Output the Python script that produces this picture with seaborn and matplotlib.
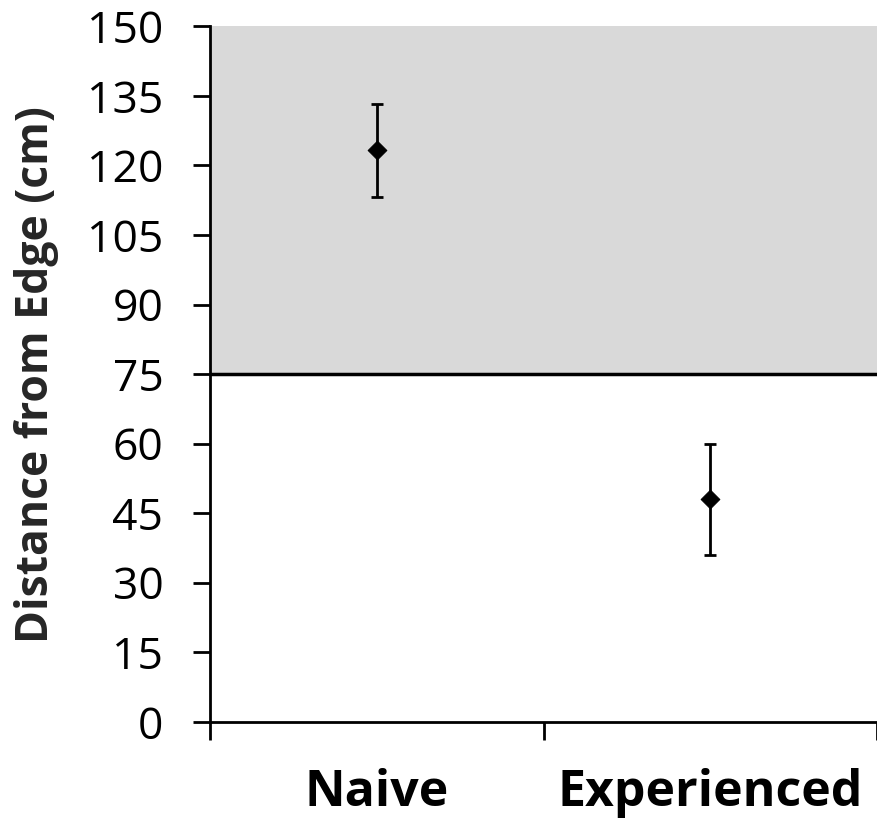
import numpy as np
import pandas as pd
import matplotlib
matplotlib.use("Agg")
import matplotlib.pyplot as plt
import seaborn as sns

groups = ["Naive", "Experienced"]
mean_dist = [123.3, 48.0]
err_dist = [10.0, 12.0]
edge_line = 75
y_ticks = list(range(0, 151, 15))

df = pd.DataFrame({"group": groups, "dist": mean_dist, "err": err_dist})

sns.set_style("ticks")
plt.rcParams["font.family"] = ["Open Sans", "DejaVu Sans"]
plt.rcParams["text.color"] = "black"
plt.rcParams["xtick.color"] = "black"
plt.rcParams["ytick.color"] = "black"
plt.rcParams["axes.edgecolor"] = "black"

fig, ax = plt.subplots(figsize=(8.77, 8.24), dpi=100)
fig.subplots_adjust(left=0.24, right=1.0, top=0.968, bottom=0.124)

# shaded zone above the edge line
ax.axhspan(edge_line, 150, color="#d9d9d9", zorder=0, lw=0)
ax.axhline(edge_line, color="black", lw=2.5, zorder=1)

sns.scatterplot(data=df, x="group", y="dist", marker="D", s=90, color="black",
                edgecolor="black", ax=ax, zorder=3, legend=False)
ax.errorbar(np.arange(len(groups)), df["dist"], yerr=df["err"], fmt="none",
            ecolor="black", elinewidth=2, capsize=4, capthick=2, zorder=2)

ax.set_xlim(-0.5, 1.5)
ax.set_ylim(0, 150)
ax.set_yticks(y_ticks)
ax.set_xticks(np.arange(len(groups)))
ax.set_xticklabels(groups, fontsize=36, fontweight="bold")
ax.set_xticks([-0.5, 0.5, 1.5], minor=True)
ax.tick_params(axis="x", which="major", length=0, pad=33)
ax.tick_params(axis="x", which="minor", length=13, width=2, direction="out")
ax.tick_params(axis="y", labelsize=32, length=12, width=2, direction="out", pad=22)
ax.set_xlabel("")
ax.set_ylabel("Distance from Edge (cm)", fontsize=32, fontweight="bold")
ax.yaxis.set_label_coords(-0.228, 0.5)

for side in ["top", "right"]:
    ax.spines[side].set_visible(False)
for side in ["left", "bottom"]:
    ax.spines[side].set_linewidth(2)

fig.savefig("out.png", dpi=100)
